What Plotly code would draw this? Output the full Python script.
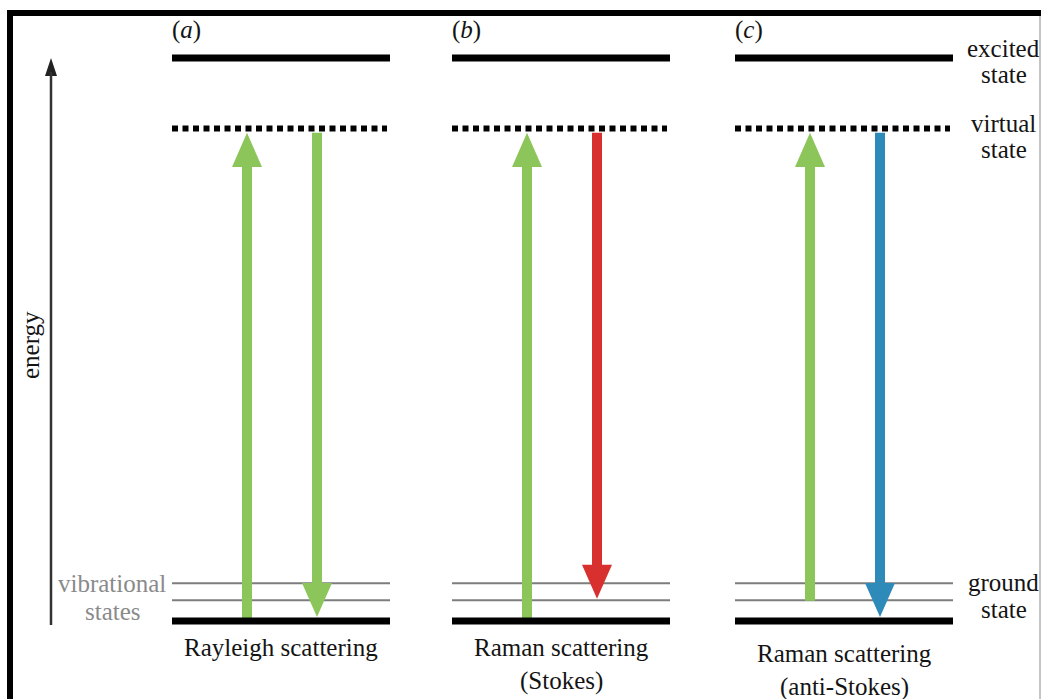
import plotly.graph_objects as go

# ---------------- data ----------------
panels = ["a", "b", "c"]
title_line1 = ["Rayleigh scattering", "Raman scattering", "Raman scattering"]
title_line2 = ["", "(Stokes)", "(anti-Stokes)"]

level_names = ["ground", "vib1", "vib2", "virtual", "excited"]
level_energy = [0.0, 0.37, 0.67, 8.75, 10.0]

absorb_from = ["ground", "ground", "vib1"]
absorb_to = ["virtual", "virtual", "virtual"]
emit_from = ["virtual", "virtual", "virtual"]
emit_to = ["ground", "vib1", "ground"]
absorb_color = ["#8cc65b", "#8cc65b", "#8cc65b"]
emit_color = ["#8cc65b", "#d8302f", "#2e8ab8"]

right_labels = [("excited", "state"), ("virtual", "state"), ("ground", "state")]

# ---------------- layout constants ----------------
W, H = 1041, 699
PX = 56.3            # pixels per energy unit
Y0 = 621             # pixel row of the ground level
E = dict(zip(level_names, level_energy))


def py(ypx):
    return (Y0 - ypx) / PX


panel_left = [172, 452, 735]
panel_w = 218
up_dx, down_dx = 75, 145
shaft_w, head_w, head_h = 10, 30, 34
thick = {"ground": 7, "vib1": 2, "vib2": 2, "virtual": 6, "excited": 7}

FONT = "Liberation Serif, Times New Roman, serif"
TXT = "#141414"
fig = go.Figure()
shapes = []
annotations = []


def arrow(x, e_from, e_to, color, gap_from, gap_to):
    up = e_to > e_from
    s = 1 if up else -1
    y_start = e_from + s * gap_from / PX
    y_tip = e_to - s * gap_to / PX
    y_base = y_tip - s * head_h / PX
    hw, sw = head_w / 2, shaft_w / 2
    xs = [x - sw, x - sw, x - hw, x, x + hw, x + sw, x + sw, x - sw]
    ys = [y_start, y_base, y_base, y_tip, y_base, y_base, y_start, y_start]
    fig.add_trace(go.Scatter(x=xs, y=ys, fill="toself", fillcolor=color,
                             line=dict(width=0, color=color), mode="lines",
                             hoverinfo="skip", showlegend=False))


def label(x, y, text, anchor="center", color=TXT, size=25, angle=0):
    annotations.append(dict(x=x, y=y, text=text, showarrow=False, xanchor=anchor,
                            yanchor="middle", textangle=angle,
                            font=dict(family=FONT, size=size, color=color)))


for i, left in enumerate(panel_left):
    x0, x1 = left, left + panel_w
    for name in level_names:
        e = E[name]
        if name == "virtual":
            shapes.append(dict(type="line", xref="x", yref="y", x0=x0, x1=x1 - 3, y0=e, y1=e,
                               layer="below",
                               line=dict(color="black", width=6, dash="6px,4.5px")))
        elif name.startswith("vib"):
            shapes.append(dict(type="line", xref="x", yref="y", x0=x0, x1=x1, y0=e, y1=e,
                               layer="below", line=dict(color="#7d7d7d", width=2)))
    for name in ["ground", "excited"]:
        e = E[name]
        shapes.append(dict(type="line", xref="x", yref="y", x0=x0, x1=x1, y0=e, y1=e,
                           line=dict(color="black", width=thick[name])))

    arrow(left + up_dx, E[absorb_from[i]], E[absorb_to[i]], absorb_color[i],
          -thick[absorb_from[i]] / 2 + 0.5, thick[absorb_to[i]] / 2 + 1.5)
    arrow(left + down_dx, E[emit_from[i]], E[emit_to[i]], emit_color[i],
          thick[emit_from[i]] / 2 + 1.5, thick[emit_to[i]] / 2 + 0.5)

    label(left + 14, py(30), "(<i>" + panels[i] + "</i>)")
    cx = left + panel_w / 2
    if title_line2[i]:
        yy1, yy2 = (647, 681) if i == 1 else (653, 687)
        label(cx, py(yy1), title_line1[i])
        label(cx, py(yy2), title_line2[i])
    else:
        label(cx, py(647), title_line1[i])

for (l1, l2), (ya, yb) in zip(right_labels, [(48, 74), (123, 149), (582, 609)]):
    label(1003, py(ya), l1)
    label(1004, py(yb), l2)

label(168, py(583), "vibrational", anchor="right", color="#8a8a8a")
label(113, py(611), "states", color="#8a8a8a")

# energy axis arrow
shapes.append(dict(type="line", xref="x", yref="y", x0=51, x1=51, y0=py(625), y1=py(72),
                   line=dict(color="#333333", width=2.5)))
fig.add_trace(go.Scatter(x=[45, 51, 57, 45], y=[py(76), py(58), py(76), py(76)], fill="toself",
                         fillcolor="#222222", line=dict(width=0, color="#222222"), mode="lines",
                         hoverinfo="skip", showlegend=False))
label(30, py(345), "energy", angle=-90)

# frame
shapes.append(dict(type="rect", xref="x", yref="y", x0=7, x1=W + 5, y0=py(16), y1=py(10),
                   fillcolor="black", line=dict(width=0)))
shapes.append(dict(type="rect", xref="x", yref="y", x0=7, x1=13, y0=py(H + 5), y1=py(10),
                   fillcolor="black", line=dict(width=0)))
shapes.append(dict(type="line", xref="x", yref="y", x0=1040, x1=1040, y0=py(H + 5), y1=py(16),
                   line=dict(color="#8a8a8a", width=1)))

fig.update_layout(
    width=W, height=H, margin=dict(l=0, r=0, t=0, b=0),
    paper_bgcolor="white", plot_bgcolor="white",
    xaxis=dict(range=[0, W], visible=False, fixedrange=True),
    yaxis=dict(range=[py(H), py(0)], visible=False, fixedrange=True),
    shapes=shapes, annotations=annotations, showlegend=False,
)
fig.write_html("out.html", config={"displayModeBar": False},
               post_script="document.body.style.margin='0';document.body.style.overflow='hidden';")
